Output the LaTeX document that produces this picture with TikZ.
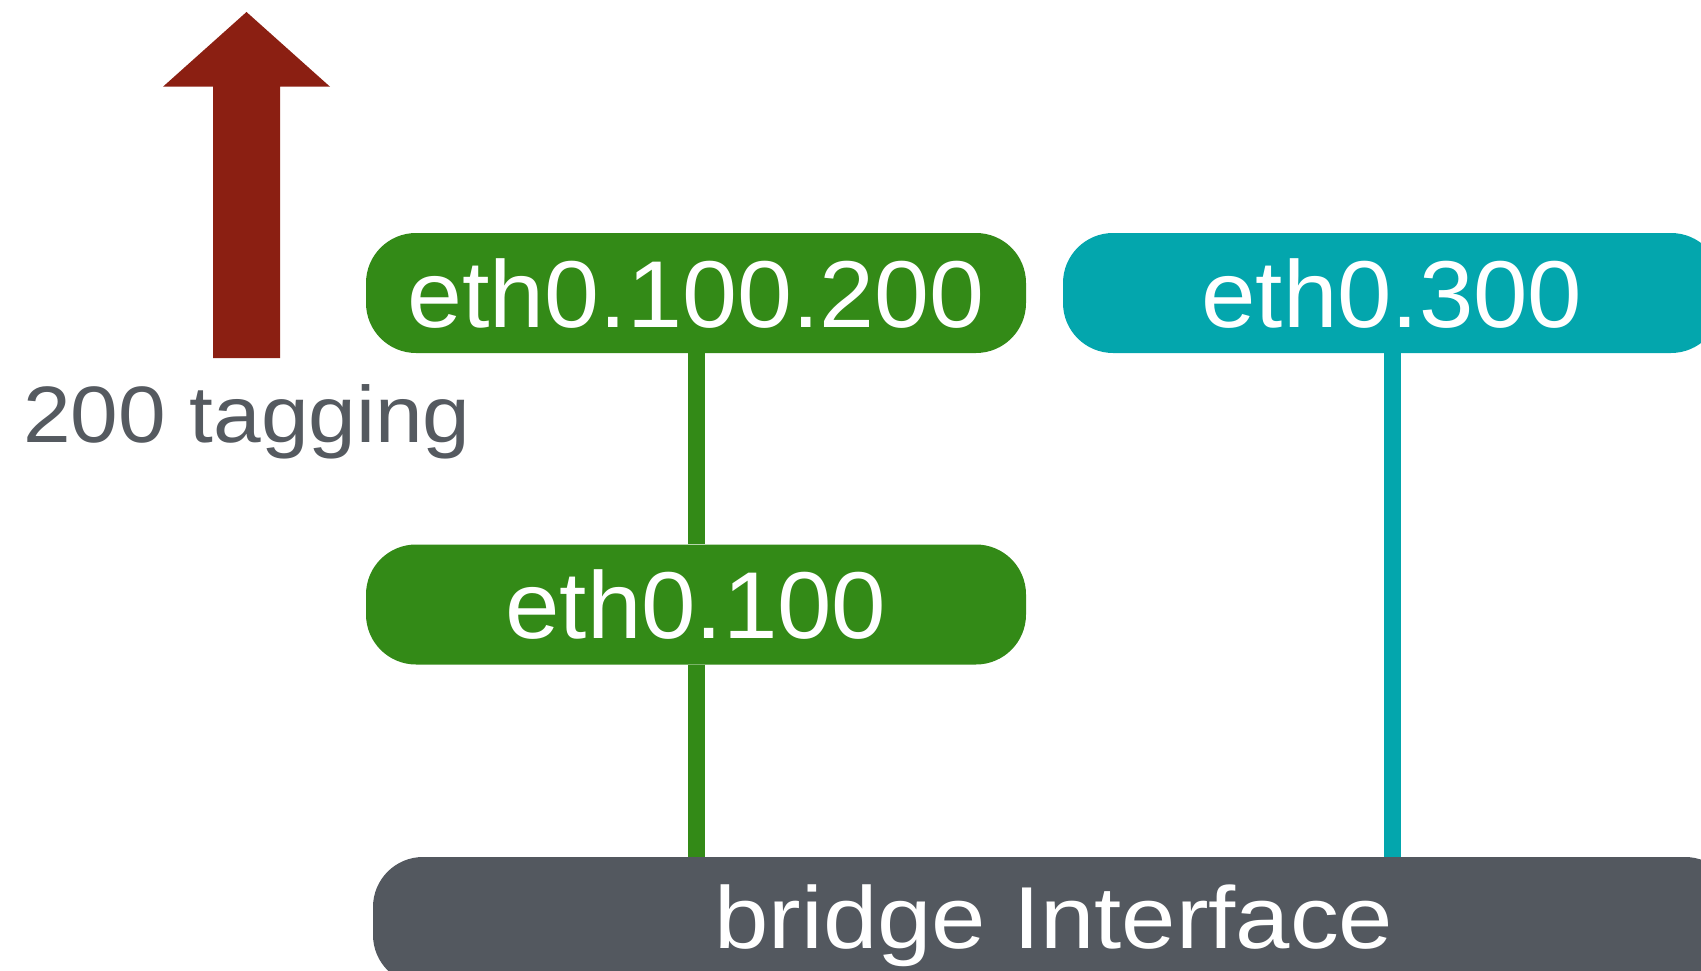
\documentclass[tikz,border=0pt]{standalone}
\usepackage{fontspec}
\setmainfont{Liberation Sans}
\definecolor{vgreen}{RGB}{51,138,23}
\definecolor{vteal}{RGB}{3,166,173}
\definecolor{vgray}{RGB}{83,88,95}
\definecolor{vred}{RGB}{139,31,18}
\definecolor{tgray}{RGB}{85,90,96}
\newcommand{\hs}[2]{\scalebox{#1}[1]{#2}}
\begin{document}
\begin{tikzpicture}[x=1pt,y=-1pt]
\useasboundingbox (0,0) rectangle (1701,971);
\clip (0,0) rectangle (1701,971);
\tikzset{
  box/.style={rounded corners=50pt, minimum height=120pt, inner sep=0pt, text=white,
    font=\fontsize{95}{100}\selectfont, text depth=0pt, anchor=center},
  link/.style={line width=17pt},
}
% arrow
\fill[vred] (246.5,12) -- (330,86.7) -- (280,86.7) -- (280,358) -- (213,358) -- (213,86.7) -- (163,86.7) -- cycle;
\node[anchor=base west, inner sep=0pt, text=tgray, font=\fontsize{80}{90}\selectfont] (tag) at (23,442) {\hs{1.07}{200 tagging}};
% boxes
\node[box, fill=vgreen, minimum width=660pt] (e100200) at (696,293) {\hs{1.04}{eth0.100.200}};
\node[box, fill=vteal, minimum width=658pt] (e300) at (1392,293) {\hs{1.03}{eth0.300}};
\node[box, fill=vgreen, minimum width=660pt] (e100) at (696,604.5) {\hs{1.03}{eth0.100}};
\node[box, fill=vgray, minimum width=1362pt, minimum height=128pt, text depth=8pt,
  font=\fontsize{88}{95}\selectfont] (bridge) at (1054,921) {\hs{1.11}{bridge Interface}};
% links
\draw[link, vgreen] (e100200.south) -- (e100.north);
\draw[link, vgreen] (e100.south) -- (e100.south |- bridge.north);
\draw[link, vteal] (e300.south) -- (e300.south |- bridge.north);
\end{tikzpicture}
\end{document}
